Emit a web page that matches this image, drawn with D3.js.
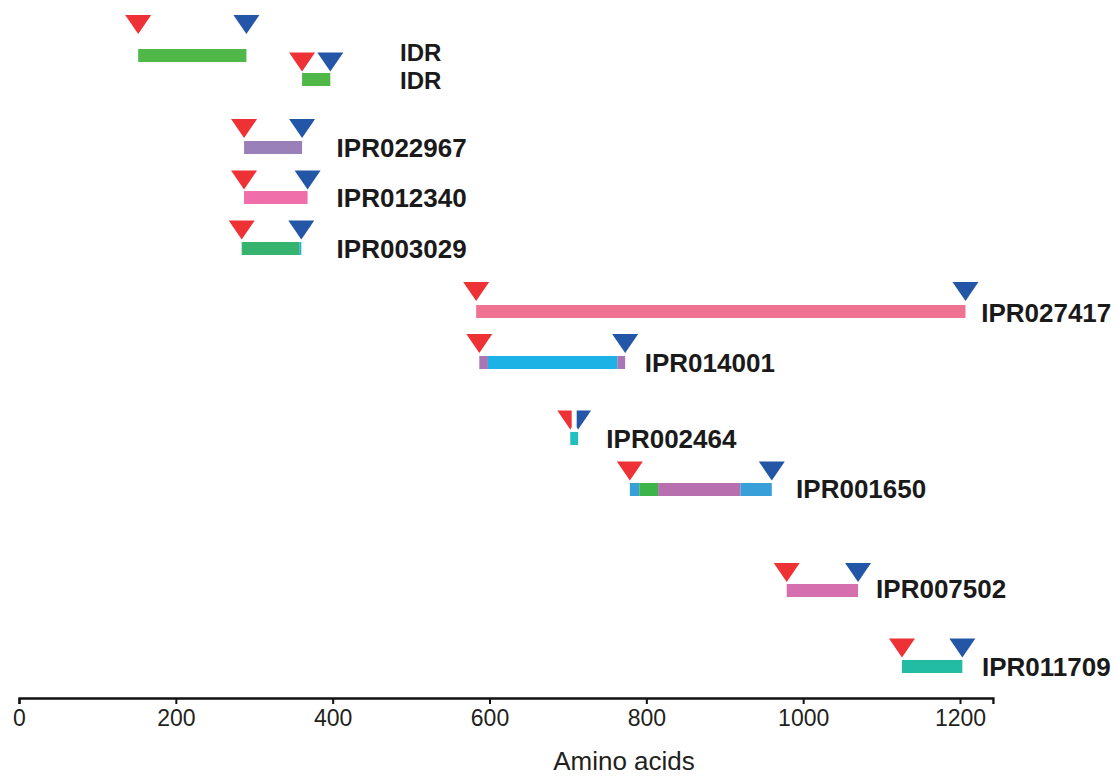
<!DOCTYPE html>
<html>
<head>
<meta charset="utf-8">
<script src="https://cdn.jsdelivr.net/npm/d3@7"></script>
<style>
  html, body { margin: 0; padding: 0; background: #fff; }
  svg { display: block; }
</style>
</head>
<body>
<svg id="chart" width="1116" height="776"></svg>
<script>
// ---------------- DATA ----------------
const domainNames  = ["IDR", "IDR", "IPR022967", "IPR012340", "IPR003029", "IPR027417",
                      "IPR014001", "IPR002464", "IPR001650", "IPR007502", "IPR011709"];
const domainStart  = [152, 361, 287, 287, 284, 583, 587, 703, 779, 979, 1126];
const domainEnd    = [290, 397, 361, 368, 360, 1207, 773, 713, 960, 1070, 1203];
const labelAt      = [486, 486, 405, 405, 405, 1227, 798, 749, 991, 1093, 1228];

// sub-segments drawn inside each domain bar (row index, start, end, kind)
const segRow   = [0, 1, 2, 3, 4, 4, 5, 6, 6, 6, 7, 8, 8, 8, 8, 9, 10];
const segStart = [152, 361, 287, 287, 284, 358, 583, 587, 598, 763, 703, 779, 791, 815, 920, 979, 1126];
const segEnd   = [290, 397, 361, 368, 358, 360, 1207, 598, 763, 773, 713, 791, 815, 920, 960, 1070, 1203];
const segKind  = ["idr", "idr", "p022967", "p012340", "p003029", "cyan", "p027417",
                  "purple", "cyan", "purple", "p002464", "blue", "green", "mauve", "blue",
                  "p007502", "p011709"];

const tickValues = [0, 200, 400, 600, 800, 1000, 1200];
const proteinLength = 1242;
const axisTitle = "Amino acids";

// ---------------- STYLE / LAYOUT ----------------
const kindColor = {
  idr: "#4fb848", p022967: "#9a80b8", p012340: "#f06ea9", p003029: "#36b46f",
  cyan: "#1db2e6", p027417: "#f07292", purple: "#a877b3", p002464: "#22bfc0",
  blue: "#389fd8", green: "#3cb44a", mauve: "#b770ad", p007502: "#d56fae",
  p011709: "#22bba3"
};
const startColor = "#ee3134";
const endColor   = "#2356a6";
const rowTop = [49, 73, 141, 191, 242, 305, 356, 432, 483, 584, 660];
const triGap = [15, 1.5, 3, 1.5, 2.5, 4, 3, 2.5, 2.5, 2, 2.5];
const labelDy = [-1, 3, 3, 3, 3, 4, 3, 3, 2, 1, 3];
const labelSize = [24, 24, 26, 26, 26, 26, 26, 26, 26, 26, 26];
const barH = 13, triH = 19, triHalf = 13;

const svg = d3.select("#chart");
const x = d3.scaleLinear().domain([0, proteinLength]).range([19, 19 + proteinLength * 941 / 1200]);
const axisY = 698;

// bars
svg.append("g").selectAll("rect")
  .data(segKind.map((k, i) => ({ row: segRow[i], s: segStart[i], e: segEnd[i], k })))
  .join("rect")
  .attr("x", d => x(d.s))
  .attr("y", d => rowTop[d.row])
  .attr("width", d => x(d.e) - x(d.s))
  .attr("height", barH)
  .attr("fill", d => kindColor[d.k]);

// triangles (clipped when start/end markers overlap)
const defs = svg.append("defs");
const triG = svg.append("g");
domainNames.forEach((name, i) => {
  const xs = x(domainStart[i]), xe = x(domainEnd[i]);
  const apexY = rowTop[i] - triGap[i];
  const topY = apexY - triH;
  const overlap = (xe - xs) < 2 * triHalf;
  const mid = (xs + xe) / 2;
  const clipGap = (xe - xs) < triHalf ? 2.5 : 0;
  const tri = (ax) => `M${ax - triHalf},${topY}L${ax + triHalf},${topY}L${ax},${apexY}Z`;
  let clipR = null, clipB = null;
  if (overlap) {
    clipR = "clipR" + i; clipB = "clipB" + i;
    defs.append("clipPath").attr("id", clipR).append("rect")
      .attr("x", xs - triHalf - 2).attr("y", topY - 2)
      .attr("width", mid - clipGap - (xs - triHalf - 2)).attr("height", triH + 4);
    defs.append("clipPath").attr("id", clipB).append("rect")
      .attr("x", mid + clipGap).attr("y", topY - 2)
      .attr("width", xe + triHalf + 2 - mid - clipGap).attr("height", triH + 4);
  }
  const r = triG.append("path").attr("d", tri(xs)).attr("fill", startColor);
  if (clipR) r.attr("clip-path", `url(#${clipR})`);
  const b = triG.append("path").attr("d", tri(xe)).attr("fill", endColor);
  if (clipB) b.attr("clip-path", `url(#${clipB})`);
});

// labels
svg.append("g").selectAll("text")
  .data(domainNames.map((n, i) => ({ n, i })))
  .join("text")
  .attr("x", d => x(labelAt[d.i]))
  .attr("y", d => rowTop[d.i] + barH + labelDy[d.i])
  .attr("font-family", "'Liberation Sans', Arial, Helvetica, sans-serif")
  .attr("font-weight", "bold")
  .attr("font-size", d => labelSize[d.i])
  .attr("fill", "#1a1a1a")
  .text(d => d.n);

// axis
const axis = d3.axisBottom(x).tickValues(tickValues).tickFormat(d3.format("d"))
  .tickSize(6).tickSizeOuter(6).tickPadding(6);
const ag = svg.append("g").attr("transform", `translate(0,${axisY})`).call(axis);
ag.select(".domain").attr("stroke", "#111").attr("stroke-width", 2.3);
ag.selectAll(".tick line").attr("stroke", "#111").attr("stroke-width", 2);
ag.selectAll(".tick text")
  .attr("font-family", "'Liberation Sans', Arial, Helvetica, sans-serif")
  .attr("font-size", 23)
  .attr("fill", "#231f20");

svg.append("text")
  .attr("x", 624)
  .attr("y", 770)
  .attr("text-anchor", "middle")
  .attr("font-family", "'Liberation Sans', Arial, Helvetica, sans-serif")
  .attr("font-size", 26)
  .attr("fill", "#231f20")
  .text(axisTitle);
</script>
</body>
</html>
